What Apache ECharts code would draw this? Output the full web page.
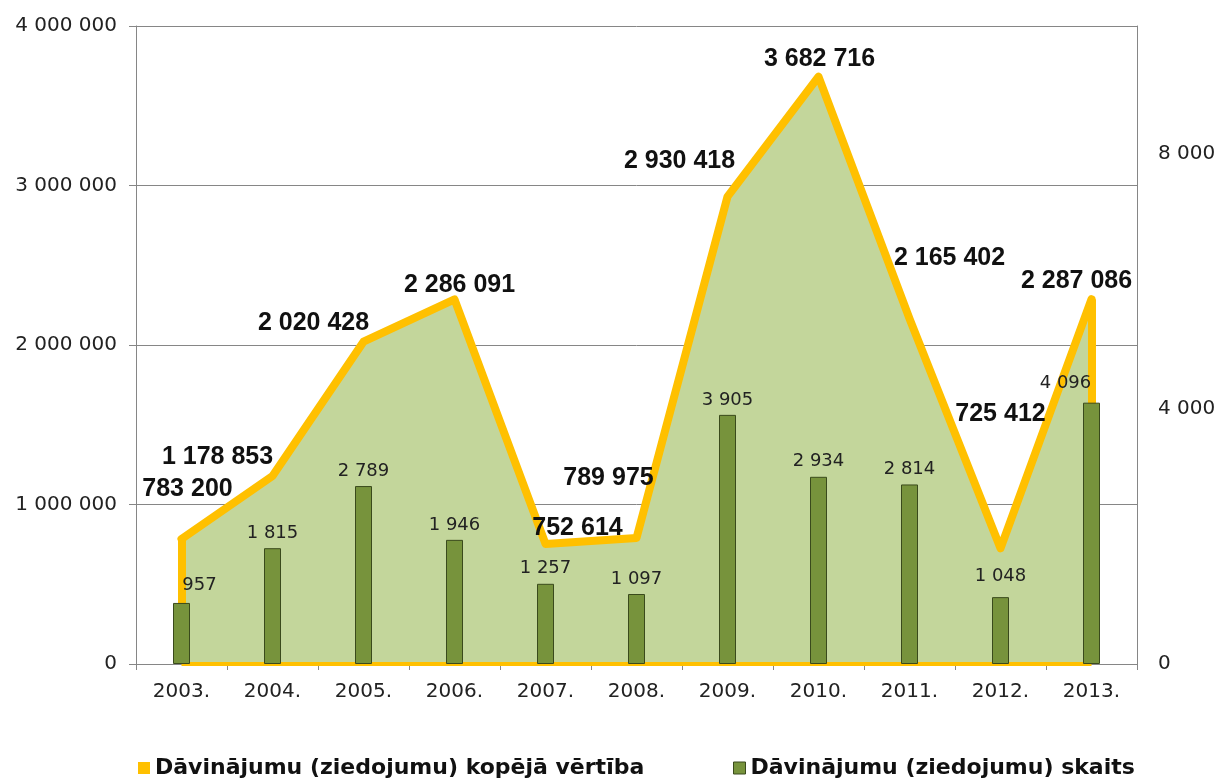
<!DOCTYPE html>
<html>
<head>
<meta charset="utf-8">
<script src="https://cdn.jsdelivr.net/npm/echarts@6/dist/echarts.min.js"></script>
<style>
  html, body { margin: 0; padding: 0; background: #fff; }
  #chart { width: 1227px; height: 778px; }
</style>
</head>
<body>
<div id="chart"></div>
<script>
const categories = ['2003.', '2004.', '2005.', '2006.', '2007.', '2008.', '2009.', '2010.', '2011.', '2012.', '2013.'];
const totalValue = [783200, 1178853, 2020428, 2286091, 752614, 789975, 2930418, 3682716, 2165402, 725412, 2287086];
const donationCount = [957, 1815, 2789, 1946, 1257, 1097, 3905, 2934, 2814, 1048, 4096];
const valueName = 'Dāvinājumu (ziedojumu) kopējā vērtība';
const countName = 'Dāvinājumu (ziedojumu) skaits';

// label nudges, in pixels (kept apart from the data)
const valueLabelOffset = [[6, -50], [-55, -19], [-50, -19], [5, -14], [32, -16], [-28, -60], [-48, -35], [1, -17], [40, -61], [0, -134], [-15, -18]];
const countLabelOffset = [[18, -3], [0, 0], [0, 0], [0, 0], [0, 0], [0, 0], [0, 0], [0, 0], [0, 0], [0, -6], [-26, -4]];

const YELLOW = '#FFC000';
const AREA = '#C3D69B';
const BAR = '#77933C';
const BAR_EDGE = '#3A4A1C';
const GRID = '#868686';

const spaced = v => String(v).replace(/\B(?=(\d{3})+(?!\d))/g, ' ');

const chart = echarts.init(document.getElementById('chart'));
const last = categories.length - 1;

const option = {
  animation: false,
  backgroundColor: '#fff',
  grid: { left: 136, right: 90, top: 26, bottom: 114 },
  legend: [
    {
      left: 133, top: 752, itemWidth: 12, itemHeight: 12,
      textStyle: { fontFamily: 'DejaVu Sans', fontWeight: 'bold', fontSize: 22, color: '#111' },
      data: [{ name: valueName, icon: 'rect', itemStyle: { color: YELLOW, borderWidth: 0 } }]
    },
    {
      left: 728, top: 752, itemWidth: 12, itemHeight: 12,
      textStyle: { fontFamily: 'DejaVu Sans', fontWeight: 'bold', fontSize: 22, color: '#111' },
      data: [{ name: countName, icon: 'rect', itemStyle: { color: BAR, borderColor: BAR_EDGE, borderWidth: 1 } }]
    }
  ],
  xAxis: {
    type: 'category',
    data: categories,
    boundaryGap: true,
    axisLine: { lineStyle: { color: GRID, width: 1 } },
    axisTick: { show: true, length: 6, lineStyle: { color: GRID } },
    axisLabel: { margin: 18, fontFamily: 'DejaVu Sans', fontSize: 20, color: '#222' }
  },
  yAxis: [
    {
      type: 'value', min: 0, max: 4000000, interval: 1000000,
      axisLine: { show: true, lineStyle: { color: GRID } },
      axisTick: { show: true, length: 7, lineStyle: { color: GRID } },
      splitLine: { lineStyle: { color: GRID, width: 1 } },
      axisLabel: { margin: 19, fontFamily: 'DejaVu Sans', fontSize: 20, color: '#222', formatter: spaced }
    },
    {
      type: 'value', min: 0, max: 10000, interval: 4000, position: 'right',
      axisLine: { show: true, lineStyle: { color: GRID } },
      axisTick: { show: false },
      splitLine: { show: false },
      axisLabel: { margin: 21, fontFamily: 'DejaVu Sans', fontSize: 20, color: '#222', showMaxLabel: false, formatter: spaced }
    }
  ],
  series: [
    {
      name: valueName,
      type: 'line',
      yAxisIndex: 0,
      z: 2,
      symbol: 'circle',
      symbolSize: 0,
      itemStyle: { color: YELLOW },
      lineStyle: { color: YELLOW, width: 8, join: 'round', cap: 'round' },
      areaStyle: { color: AREA, opacity: 1 },
      data: totalValue.map((v, i) => ({
        value: v,
        label: { offset: valueLabelOffset[i] }
      })),
      label: {
        show: true,
        position: 'inside',
        fontFamily: 'Liberation Sans',
        fontWeight: 'bold',
        fontSize: 25,
        color: '#111',
        formatter: p => spaced(p.value)
      },
      markLine: {
        silent: true,
        symbol: ['none', 'none'],
        label: { show: false },
        z: 3,
        lineStyle: { color: YELLOW, width: 8, type: 'solid' },
        data: [
          [{ coord: [categories[0], 0] }, { coord: [categories[0], totalValue[0]] }],
          [{ coord: [categories[last], 0] }, { coord: [categories[last], totalValue[last]] }],
          [{ coord: [categories[0], 0], lineStyle: { width: 4 } }, { coord: [categories[last], 0] }]
        ]
      }
    },
    {
      name: countName,
      type: 'bar',
      yAxisIndex: 1,
      z: 10,
      barWidth: 17,
      itemStyle: { color: BAR, borderColor: BAR_EDGE, borderWidth: 1 },
      data: donationCount.map((v, i) => ({
        value: v,
        label: { offset: countLabelOffset[i] }
      })),
      label: {
        show: true,
        position: 'top',
        distance: 6,
        fontFamily: 'DejaVu Sans',
        fontSize: 18,
        color: '#222',
        formatter: p => spaced(p.value)
      }
    }
  ]
};

chart.setOption(option);
window.addEventListener('resize', () => chart.resize());
</script>
</body>
</html>
